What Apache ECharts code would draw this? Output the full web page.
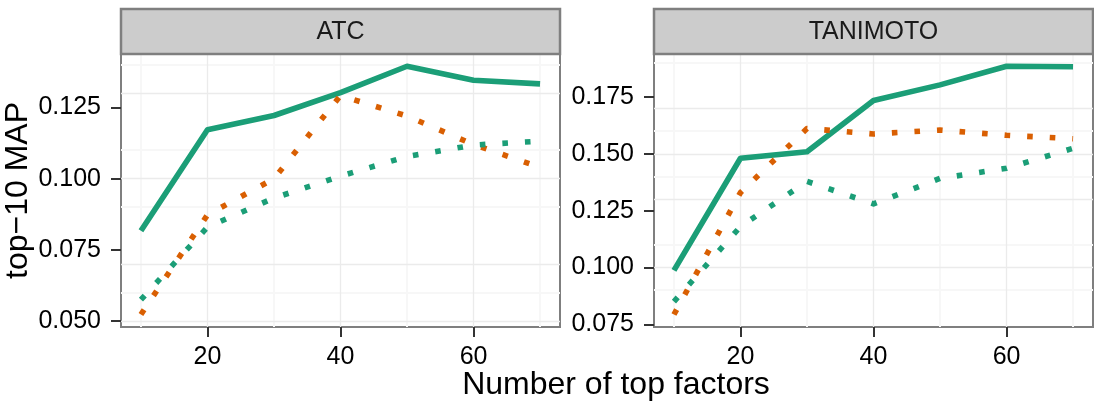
<!DOCTYPE html>
<html>
<head>
<meta charset="utf-8">
<script src="https://cdn.jsdelivr.net/npm/echarts@6/dist/echarts.min.js"></script>
<style>
  html, body { margin: 0; padding: 0; background: #fff; }
  #container { width: 1094px; height: 404px; }
</style>
</head>
<body>
<div id="container"></div>
<script>
// number of top factors
var factors = [10, 20, 30, 40, 50, 60, 70];

// ATC panel
var atcSolid = [0.0817, 0.1172, 0.1222, 0.1302, 0.1395, 0.1346, 0.1333];
var atcOrange = [0.0523, 0.0873, 0.1000, 0.1292, 0.1220, 0.1120, 0.1040];
var atcGreenDot = [0.0575, 0.0830, 0.0932, 0.1009, 0.1078, 0.1118, 0.1132];

// TANIMOTO panel
var tanSolid = [0.0987, 0.1481, 0.1510, 0.1735, 0.1804, 0.1886, 0.1884];
var tanOrange = [0.0793, 0.1330, 0.1612, 0.1588, 0.1605, 0.1582, 0.1567];
var tanGreenDot = [0.0850, 0.1180, 0.1379, 0.1280, 0.1392, 0.1437, 0.1525];

// ticks
var xTicks = [20, 40, 60];
var xMinor = [10, 30, 50, 70];
var atcYTicks = [0.050, 0.075, 0.100, 0.125];
var atcYMinor = [0.0625, 0.0875, 0.1125, 0.1375];
var tanYTicks = [0.075, 0.100, 0.125, 0.150, 0.175];
var tanYMinor = [0.0875, 0.1125, 0.1375, 0.1625, 0.1875];

var FONT = 'Liberation Sans, Arial, Helvetica, sans-serif';
var GREEN = '#1B9E77', ORANGE = '#D95F02';

var dom = document.getElementById('container');
var myChart = echarts.init(dom, null, {renderer: 'canvas'});

var pair = function(arr) {
    return factors.map(function(f, i) { return [f, arr[i]]; });
};

// background grid (ggplot-ish major + minor lines)
var gridLines = function(yMajor, yMinor) {
    var out = [];
    var minor = {color: '#F7F7F7', width: 2, type: 'solid'};
    var major = {color: '#EBEBEB', width: 1.3, type: 'solid'};
    xMinor.forEach(function(v) { out.push({xAxis: v, lineStyle: minor}); });
    yMinor.forEach(function(v) { out.push({yAxis: v, lineStyle: minor}); });
    xTicks.forEach(function(v) { out.push({xAxis: v, lineStyle: major}); });
    yMajor.forEach(function(v) { out.push({yAxis: v, lineStyle: major}); });
    return out;
};

var makeX = function(idx) {
    return {
        type: 'value', gridIndex: idx, min: 7, max: 73,
        axisLine: {show: false},
        splitLine: {show: false},
        axisTick: {show: true, length: 10, customValues: xTicks, lineStyle: {color: '#333', width: 2}},
        axisLabel: {customValues: xTicks, fontSize: 25, margin: 18, color: '#000', fontFamily: FONT}
    };
};

var makeY = function(idx, min, max, ticks) {
    return {
        type: 'value', gridIndex: idx, min: min, max: max,
        axisLine: {show: false},
        splitLine: {show: false},
        axisTick: {show: true, length: 10, customValues: ticks, lineStyle: {color: '#333', width: 2}},
        axisLabel: {customValues: ticks, fontSize: 25, margin: 20, color: '#000', fontFamily: FONT,
            formatter: function(v) { return v.toFixed(3); }}
    };
};

var lineSeries = function(idx, arr, color, dotted, marks) {
    var s = {
        type: 'line', xAxisIndex: idx, yAxisIndex: idx,
        data: pair(arr), showSymbol: false, symbol: 'none', animation: false, silent: true,
        lineStyle: {color: color, width: 5.6, type: dotted ? [5.6, 17] : 'solid', cap: 'butt', join: 'round'},
        z: 3
    };
    if (marks) {
        s.markLine = {
            silent: true, symbol: ['none', 'none'], label: {show: false}, animation: false, z: 1,
            emphasis: {disabled: true},
            lineStyle: {type: 'solid'},
            data: marks
        };
    }
    return s;
};

var strip = function(x, w, label) {
    return [
        {type: 'rect', shape: {x: x, y: 9, width: w, height: 45},
         style: {fill: '#CCCCCC', stroke: '#7F7F7F', lineWidth: 2.5}, z: 10},
        {type: 'text', x: x + w / 2, y: 32, z: 11,
         style: {text: label, fill: '#1A1A1A', font: '25px ' + FONT, textAlign: 'center', textVerticalAlign: 'middle'}}
    ];
};

var option = {
    backgroundColor: '#fff',
    animation: false,
    grid: [
        {left: 121, top: 54, width: 439, height: 273, show: true, backgroundColor: '#fff', borderColor: '#7F7F7F', borderWidth: 2},
        {left: 654, top: 54, width: 439, height: 273, show: true, backgroundColor: '#fff', borderColor: '#7F7F7F', borderWidth: 2}
    ],
    xAxis: [makeX(0), makeX(1)],
    yAxis: [
        Object.assign(makeY(0, 0.0479, 0.1438, atcYTicks), {
            name: 'top\u221210 MAP', nameLocation: 'middle', nameRotate: 90, nameGap: 83,
            nameTextStyle: {fontSize: 32, color: '#000', fontFamily: FONT}
        }),
        makeY(1, 0.0738, 0.1940, tanYTicks)
    ],
    series: [
        lineSeries(0, atcSolid, GREEN, false, gridLines(atcYTicks, atcYMinor)),
        lineSeries(0, atcOrange, ORANGE, true),
        lineSeries(0, atcGreenDot, GREEN, true),
        lineSeries(1, tanSolid, GREEN, false, gridLines(tanYTicks, tanYMinor)),
        lineSeries(1, tanOrange, ORANGE, true),
        lineSeries(1, tanGreenDot, GREEN, true)
    ],
    graphic: strip(121, 439, 'ATC').concat(strip(654, 439, 'TANIMOTO')).concat([
        {type: 'text', x: 616, y: 385,
         style: {text: 'Number of top factors', fill: '#000', font: '32px ' + FONT, textAlign: 'center', textVerticalAlign: 'middle'}}
    ])
};
myChart.setOption(option, true);
</script>
</body>
</html>
